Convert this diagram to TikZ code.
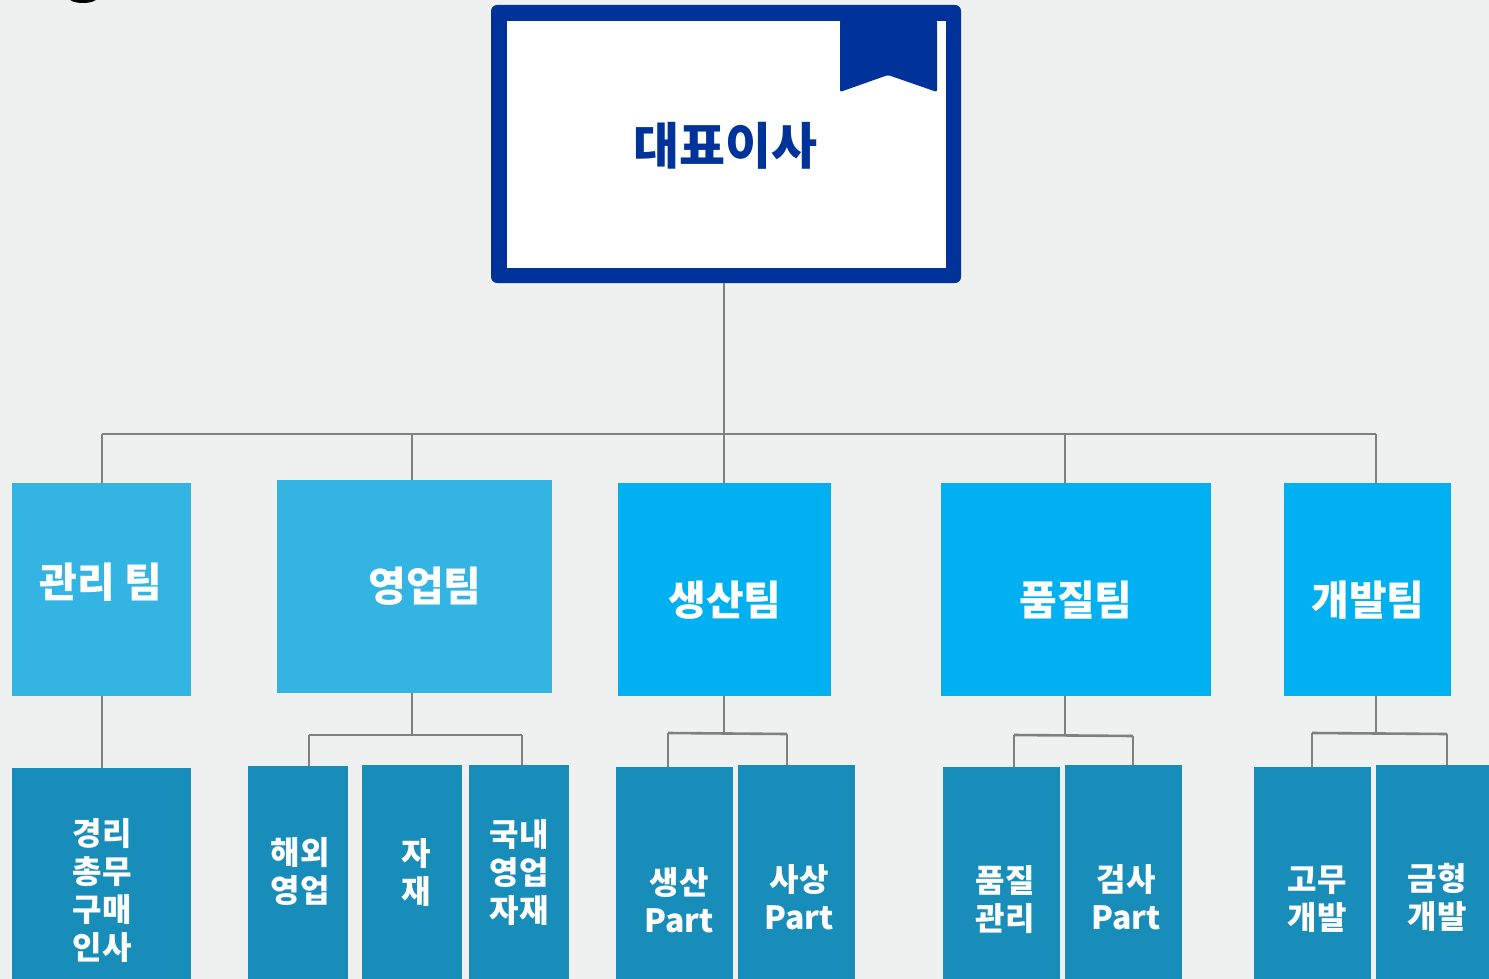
\documentclass[tikz,border=0pt]{standalone}
\usepackage{fontspec}
\setmainfont{Noto Sans CJK KR}
\definecolor{bgc}{HTML}{EFF1F0}
\definecolor{ceoblue}{HTML}{003399}
\definecolor{midA}{HTML}{33B4E3}
\definecolor{midB}{HTML}{00B0F0}
\definecolor{lowc}{HTML}{198DBA}
\definecolor{connc}{HTML}{808080}
\begin{document}
\begin{tikzpicture}[x=1pt,y=-1pt,
  boxbase/.style={inner sep=0pt, outer sep=0pt, anchor=north west, draw=none},
  midboxA/.style={boxbase, fill=midA},
  midboxB/.style={boxbase, fill=midB},
  lowbox/.style={boxbase, fill=lowc},
  midtxt/.style={text=white, font=\fontsize{41}{46}\selectfont\bfseries, inner sep=0pt},
  lowtxt/.style={text=white, font=\fontsize{32}{38}\selectfont\bfseries, align=center, inner sep=0pt},
  conn/.style={draw=connc, line width=2.6pt},
]
\useasboundingbox (0,0) rectangle (1489,979);
\fill[bgc] (0,0) rectangle (1489,979);
% partial black shape at top-left edge
\fill[black] (83,-3) ellipse [x radius=15pt, y radius=6pt];

% CEO box
\node[boxbase, fill=ceoblue, rounded corners=6pt, minimum width=470pt, minimum height=278pt] (ceo) at (491,5) {};
\node[boxbase, fill=white, minimum width=439pt, minimum height=247pt] (ceoin) at (507,21) {};
\fill[ceoblue, rounded corners=2pt] (840,20) -- (937,20) -- (937,92) -- (888,75) -- (840,92) -- cycle;
\node[text=ceoblue, font=\fontsize{50}{54}\selectfont\bfseries, inner sep=0pt] (ceotxt) at (725,146) {대표이사};

% middle row
\node[midboxA, minimum width=179pt, minimum height=213pt] (gw) at (12,483) {};
\node[midboxA, minimum width=275pt, minimum height=213pt] (yu) at (277,480) {};
\node[midboxB, minimum width=213pt, minimum height=213pt] (ss) at (618,483) {};
\node[midboxB, minimum width=270pt, minimum height=213pt] (pj) at (941,483) {};
\node[midboxB, minimum width=167pt, minimum height=213pt] (gb) at (1284,483) {};
\node[midtxt] (gwt) at (101,582) {관리 팀};
\node[midtxt] (yut) at (425,586) {영업팀};
\node[midtxt] (sst) at (725,600) {생산팀};
\node[midtxt] (pjt) at (1076,600) {품질팀};
\node[midtxt] (gbt) at (1368,600) {개발팀};

% bottom row
\node[lowbox, minimum width=179pt, minimum height=220pt] (l1) at (12,768) {};
\node[lowbox, minimum width=100pt, minimum height=220pt] (l2) at (248,766) {};
\node[lowbox, minimum width=100pt, minimum height=220pt] (l3) at (362,765) {};
\node[lowbox, minimum width=100pt, minimum height=220pt] (l4) at (469,765) {};
\node[lowbox, minimum width=117pt, minimum height=220pt] (l5) at (616,767) {};
\node[lowbox, minimum width=117pt, minimum height=220pt] (l6) at (738,765) {};
\node[lowbox, minimum width=117pt, minimum height=220pt] (l7) at (943,767) {};
\node[lowbox, minimum width=117pt, minimum height=220pt] (l8) at (1065,765) {};
\node[lowbox, minimum width=117pt, minimum height=220pt] (l9) at (1254,767) {};
\node[lowbox, minimum width=117pt, minimum height=220pt] (l10) at (1376,765) {};
\node[lowtxt] (l1t) at (102,890) {경리\\총무\\구매\\인사};
\node[lowtxt] (l2t) at (300,872) {해외\\영업};
\node[lowtxt] (l3t) at (416,873) {자\\재};
\node[lowtxt] (l4t) at (519,873) {국내\\영업\\자재};
\node[lowtxt] (l5t) at (679,900) {생산\\Part};
\node[lowtxt] (l6t) at (799,897) {사상\\Part};
\node[lowtxt] (l7t) at (1005,900) {품질\\관리};
\node[lowtxt] (l8t) at (1126,897) {검사\\Part};
\node[lowtxt] (l9t) at (1317,899) {고무\\개발};
\node[lowtxt] (l10t) at (1437,897) {금형\\개발};

% top-level connectors
\coordinate (b1) at (102,434);
\coordinate (b2) at (412,434);
\coordinate (b3) at (724,434);
\coordinate (b4) at (1065,434);
\coordinate (b5) at (1376,434);
\draw[conn] (ceo.south -| b3) -- (b3);
\draw[conn] (b1) -- (b5);
\draw[conn] (b1) -- (b1 |- gw.north);
\draw[conn] (b2) -- (b2 |- yu.north);
\draw[conn] (b3) -- (b3 |- ss.north);
\draw[conn] (b4) -- (b4 |- pj.north);
\draw[conn] (b5) -- (b5 |- gb.north);

% second-level connectors
\draw[conn] (gw.south -| b1) -- (b1 |- l1.north);

\coordinate (y0) at (412,735);
\coordinate (y1) at (309,735);
\coordinate (y2) at (522,735);
\draw[conn] (yu.south -| y0) -- (y0);
\draw[conn] (y1) -- (y2);
\draw[conn] (y1) -- (y1 |- l2.north);
\draw[conn] (y2) -- (y2 |- l4.north);

\coordinate (s0) at (724,733);
\coordinate (s1) at (668,733);
\coordinate (s2) at (787,734);
\draw[conn] (ss.south -| s0) -- (s0);
\draw[conn] (s1) -- (s2);
\draw[conn] (s1) -- (s1 |- l5.north);
\draw[conn] (s2) -- (s2 |- l6.north);

\coordinate (p0) at (1065,735);
\coordinate (p1) at (1014,735);
\coordinate (p2) at (1133,736);
\draw[conn] (pj.south -| p0) -- (p0);
\draw[conn] (p1) -- (p2);
\draw[conn] (p1) -- (p1 |- l7.north);
\draw[conn] (p2) -- (p2 |- l8.north);

\coordinate (g0) at (1376,733);
\coordinate (g1) at (1312,733);
\coordinate (g2) at (1447,734);
\draw[conn] (gb.south -| g0) -- (g0);
\draw[conn] (g1) -- (g2);
\draw[conn] (g1) -- (g1 |- l9.north);
\draw[conn] (g2) -- (g2 |- l10.north);
\end{tikzpicture}
\end{document}
